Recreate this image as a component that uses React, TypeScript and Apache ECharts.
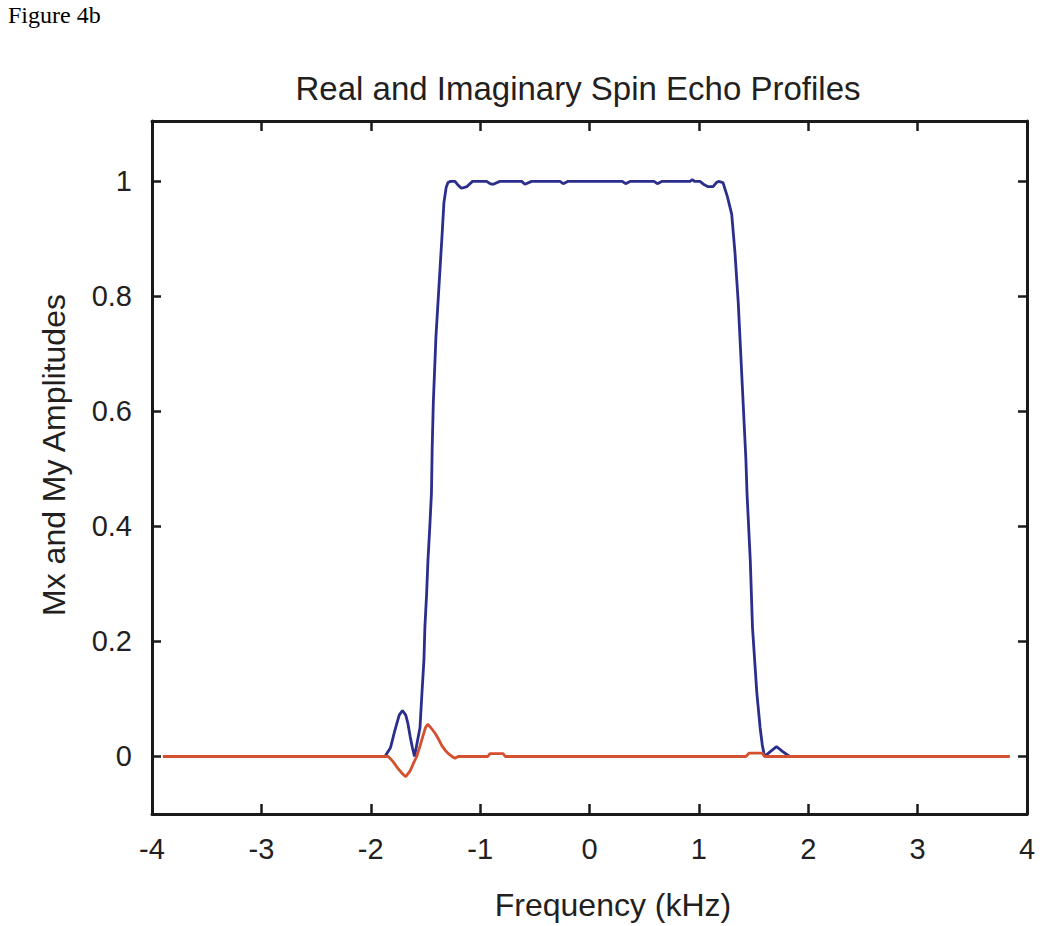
import React, { useEffect, useRef } from "react";
import * as echarts from "echarts";

// Mx (real part) profile: frequency (kHz) and amplitude
const mxFreq = [
  -3.9, -1.87, -1.82, -1.78, -1.74, -1.71, -1.68, -1.66, -1.64, -1.62, -1.6,
  -1.58, -1.55, -1.532, -1.514, -1.505, -1.49, -1.477, -1.46, -1.445, -1.438,
  -1.428, -1.404, -1.385, -1.367, -1.35, -1.331, -1.31, -1.294, -1.27, -1.23,
  -1.2, -1.17, -1.12, -1.07, -0.94, -0.91, -0.88, -0.82, -0.62, -0.59, -0.53,
  -0.27, -0.24, -0.2, 0.3, 0.33, 0.37, 0.59, 0.62, 0.66, 0.92, 0.94, 0.96,
  1.01, 1.05, 1.08, 1.13, 1.16, 1.18, 1.22, 1.26, 1.3, 1.33, 1.36, 1.39, 1.43,
  1.44, 1.47, 1.49, 1.53, 1.56, 1.58, 1.6, 1.65, 1.71, 1.77, 1.83, 3.84,
];
const mxValues = [
  0, 0, 0.015, 0.045, 0.072, 0.08, 0.072, 0.057, 0.035, 0.016, 0.0, 0.02,
  0.05, 0.11, 0.167, 0.225, 0.28, 0.341, 0.4, 0.458, 0.54, 0.615, 0.73, 0.79,
  0.847, 0.9, 0.963, 0.99, 0.998, 1.0, 1.0, 0.993, 0.988, 0.991, 1.0, 1.0,
  0.996, 0.995, 1.0, 1.0, 0.995, 1.0, 1.0, 0.996, 1.0, 1.0, 0.996, 1.0, 1.0,
  0.996, 1.0, 1.0, 1.003, 1.0, 1.0, 0.994, 0.991, 0.991, 0.998, 1.0, 0.998,
  0.974, 0.943, 0.876, 0.789, 0.672, 0.516, 0.458, 0.341, 0.225, 0.11, 0.05,
  0.02, 0.0, 0.008, 0.017, 0.008, 0, 0,
];

// My (imaginary part) profile
const myFreq = [
  -3.9, -1.84, -1.8, -1.75, -1.71, -1.68, -1.64, -1.61, -1.58, -1.55, -1.53,
  -1.5, -1.48, -1.45, -1.41, -1.38, -1.35, -1.32, -1.29, -1.25, -1.23, -1.2,
  -0.93, -0.91, -0.79, -0.77, 1.43, 1.46, 1.58, 1.6, 3.84,
];
const myValues = [
  0, 0, -0.008, -0.021, -0.03, -0.035, -0.025, -0.012, 0, 0.018, 0.031, 0.05,
  0.056, 0.05, 0.04, 0.03, 0.019, 0.011, 0.005, -0.001, -0.003, 0, 0, 0.005,
  0.005, 0, 0, 0.006, 0.006, 0, 0,
];

const xTicks = [-4, -3, -2, -1, 0, 1, 2, 3, 4];

const TEXT = "#231f20";
const FONT = "'Liberation Sans', Arial, Helvetica, sans-serif";

export default function App() {
  const ref = useRef<HTMLDivElement>(null);

  useEffect(() => {
    if (!ref.current) return;
    const chart = echarts.init(ref.current, undefined, { renderer: "svg" });

    const mxData = mxFreq.map((f, i) => [f, mxValues[i]]);
    const myData = myFreq.map((f, i) => [f, myValues[i]]);

    const axisLine = { show: true, onZero: false, lineStyle: { color: "#1a1a1a", width: 3 } };
    const xTick = { show: true, inside: true, length: 10, lineStyle: { color: "#1a1a1a", width: 2.5 } };
    const yTick = { show: true, inside: true, length: 9, lineStyle: { color: "#1a1a1a", width: 2.5 } };

    chart.setOption({
      animation: false,
      backgroundColor: "#ffffff",
      grid: { left: 152, right: 23, top: 121, bottom: 112, containLabel: false },
      title: {
        text: "Real and Imaginary Spin Echo Profiles",
        left: 573,
        top: 67,
        textAlign: "center",
        textStyle: { fontFamily: FONT, fontSize: 33, fontWeight: "normal", color: TEXT },
      },
      graphic: [
        {
          type: "text",
          left: 8,
          top: 3,
          style: { text: "Figure 4b", font: "24px 'Liberation Serif', 'Times New Roman', serif", fill: "#000" },
        },
        {
          type: "text",
          x: 613,
          y: 905,
          style: {
            text: "Frequency (kHz)",
            font: `32px ${FONT}`,
            fill: TEXT,
            textAlign: "center",
            textVerticalAlign: "middle",
          },
        },
        {
          type: "text",
          x: 54,
          y: 455,
          rotation: Math.PI / 2,
          style: {
            text: "Mx and My Amplitudes",
            font: `32px ${FONT}`,
            fill: TEXT,
            textAlign: "center",
            textVerticalAlign: "middle",
          },
        },
      ],
      xAxis: [
        {
          type: "value",
          position: "bottom",
          min: xTicks[0],
          max: xTicks[xTicks.length - 1],
          interval: 1,
          axisLine,
          axisTick: xTick,
          splitLine: { show: false },
          axisLabel: { margin: 20, fontFamily: FONT, fontSize: 29, color: TEXT },
        },
        {
          type: "value",
          position: "top",
          min: xTicks[0],
          max: xTicks[xTicks.length - 1],
          interval: 1,
          axisLine,
          axisTick: xTick,
          splitLine: { show: false },
          axisLabel: { show: false },
        },
      ],
      yAxis: [
        {
          type: "value",
          position: "left",
          min: -0.1,
          max: 1.105,
          splitNumber: 6,
          axisLine,
          axisTick: yTick,
          splitLine: { show: false },
          axisLabel: {
            margin: 20,
            showMinLabel: false,
            showMaxLabel: false,
            fontFamily: FONT,
            fontSize: 29,
            color: TEXT,
            formatter: (v: number) => String(Math.round(v * 10) / 10),
          },
        },
        {
          type: "value",
          position: "right",
          min: -0.1,
          max: 1.105,
          splitNumber: 6,
          axisLine,
          axisTick: yTick,
          splitLine: { show: false },
          axisLabel: { show: false },
        },
      ],
      series: [
        {
          name: "Mx",
          type: "line",
          xAxisIndex: 0,
          yAxisIndex: 0,
          data: mxData,
          showSymbol: false,
          symbol: "none",
          lineStyle: { color: "#2b2e8c", width: 2.8 },
          z: 2,
        },
        {
          name: "My",
          type: "line",
          xAxisIndex: 0,
          yAxisIndex: 0,
          data: myData,
          showSymbol: false,
          symbol: "none",
          lineStyle: { color: "#d4502e", width: 2.8 },
          z: 3,
        },
      ],
    });

    return () => chart.dispose();
  }, []);

  return (
    <div
      ref={ref}
      style={{ position: "absolute", left: 0, top: 0, width: 1050, height: 926 }}
    />
  );
}
